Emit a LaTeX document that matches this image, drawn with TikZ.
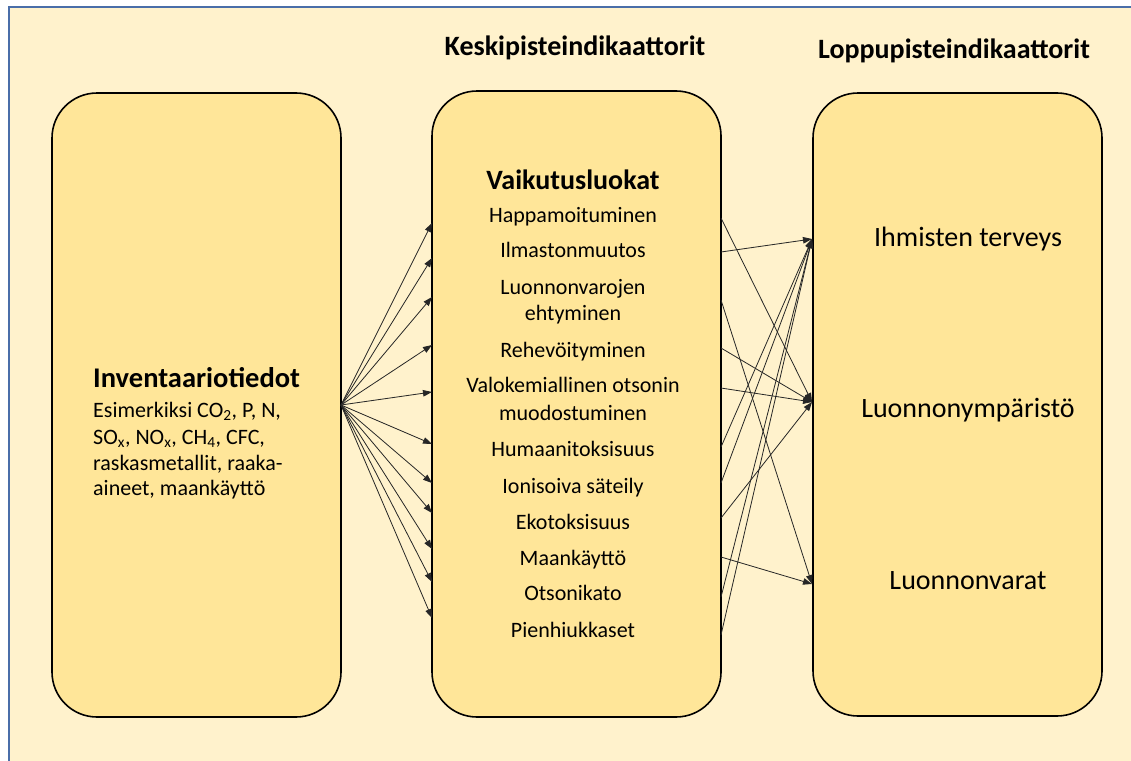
\documentclass[tikz,border=0pt]{standalone}
\usepackage{fontspec}
\setmainfont{Carlito}
\usetikzlibrary{arrows.meta}
\definecolor{bgfill}{HTML}{FFF2CC}
\definecolor{boxfill}{HTML}{FFE699}
\definecolor{frameblue}{HTML}{4A6EA9}
\tikzset{
  bigbox/.style={draw=black, line width=1.6pt, fill=boxfill, rounded corners=45pt},
  conn/.style={draw=black!85, line width=0.8pt, -{Triangle[length=9pt,width=6.5pt]}},
  item/.style={anchor=base, inner sep=0pt, font=\fontsize{22}{26}\selectfont},
  rtext/.style={anchor=base, inner sep=0pt, font=\fontsize{28}{32}\selectfont},
  ltext/.style={anchor=base west, inner sep=0pt, font=\fontsize{22}{26}\selectfont},
  title/.style={anchor=base, inner sep=0pt, font=\fontsize{28}{32}\selectfont\bfseries},
}
\begin{document}
\begin{tikzpicture}[x=1pt,y=-1pt]
\useasboundingbox (0,0) rectangle (1131,760);
\fill[white] (0,0) rectangle (1131,760);
\begin{scope}
\clip (0,0) rectangle (1131,760);
\draw[frameblue, line width=2pt, fill=bgfill] (9,7) rectangle (1150,780);
\end{scope}

% boxes
\path[bigbox] (52,93) rectangle (341,717);
\path[bigbox] (432,91) rectangle (721,717);
\path[bigbox] (813,93) rectangle (1102,716);

% titles
\node[title] (t1) at (575,56) {Keskipisteindikaattorit};
\node[title] (t2) at (954,59) {Loppupisteindikaattorit};

% left text
\node[anchor=base west, inner sep=0pt, font=\fontsize{28.5}{32}\selectfont\bfseries] (inv) at (93,387) {Inventaariotiedot};
\node[ltext] (l1) at (93,417) {Esimerkiksi CO\textsubscript{2}, P, N,};
\node[ltext] (l2) at (93,444) {SO\textsubscript{x}, NO\textsubscript{x}, CH\textsubscript{4}, CFC,};
\node[ltext] (l3) at (93,470) {raskasmetallit, raaka-};
\node[ltext] (l4) at (93,495) {aineet, maankäyttö};

% middle text
\node[title] (vk) at (573,189) {Vaikutusluokat};
\node[item] (i1) at (573,222) {Happamoituminen};
\node[item] (i2) at (573,257) {Ilmastonmuutos};
\node[item] (i3) at (573,294) {Luonnonvarojen};
\node[item] (i3b) at (573,320) {ehtyminen};
\node[item] (i4) at (573,357) {Rehevöityminen};
\node[item] (i5) at (573,392) {Valokemiallinen otsonin};
\node[item] (i5b) at (573,420) {muodostuminen};
\node[item] (i6) at (573,456) {Humaanitoksisuus};
\node[item] (i7) at (573,493) {Ionisoiva säteily};
\node[item] (i8) at (573,529) {Ekotoksisuus};
\node[item] (i9) at (573,565) {Maankäyttö};
\node[item] (i10) at (573,600) {Otsonikato};
\node[item] (i11) at (573,637) {Pienhiukkaset};

% right text
\node[rtext] (e1) at (968,246) {Ihmisten terveys};
\node[rtext] (e2) at (968,417) {Luonnonympäristö};
\node[rtext] (e3) at (968,589) {Luonnonvarat};

% connection points
\coordinate (src) at (341,405);
\foreach \n/\y in {1/223,2/258,3/297,4/345,5/392,6/444,7/483,8/513,9/549,10/582,11/618}
  \coordinate (m\n) at (432,\y);
\foreach \n/\y in {1/218,2/252,3/300,4/348,5/388,6/447,7/483,8/518,9/557,10/597,11/635}
  \coordinate (r\n) at (721,\y);
\coordinate (hT) at (812,239);
\coordinate (hN) at (812,402);
\coordinate (hV) at (812,584);

\foreach \n in {1,...,11} \draw[conn] (src) -- (m\n);

\draw[conn] (r1) -- (hN);
\draw[conn] (r2) -- (hT);
\draw[conn] (r3) -- (hV);
\draw[conn] (r4) -- (hN);
\draw[conn] (r5) -- (hN);
\draw[conn] (r6) -- (hT);
\draw[conn] (r7) -- (hT);
\draw[conn] (r8) -- (hN);
\draw[conn] (r9) -- (hV);
\draw[conn] (r10) -- (hT);
\draw[conn] (r11) -- (hT);
\end{tikzpicture}
\end{document}
